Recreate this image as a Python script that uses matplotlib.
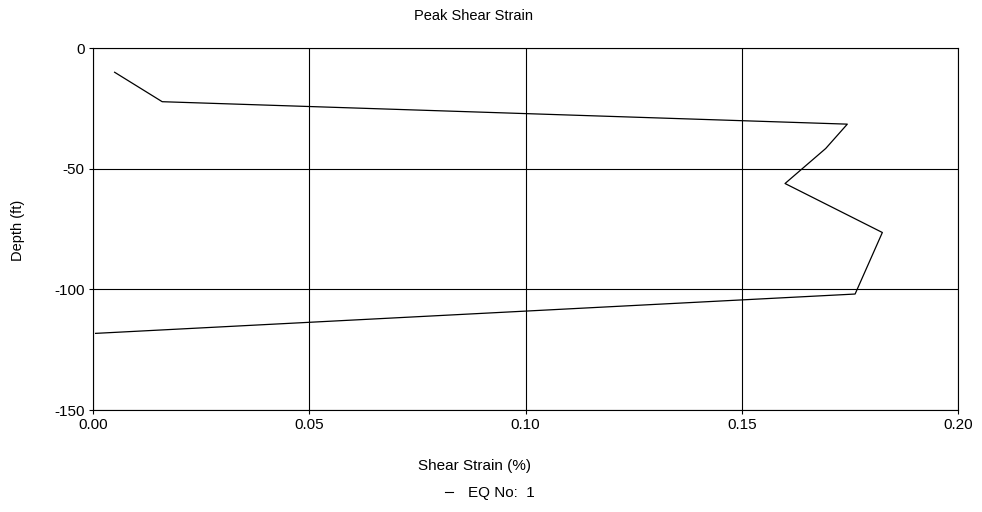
import matplotlib.pyplot as plt
from matplotlib.lines import Line2D

plt.rcParams['font.family'] = ['Liberation Sans', 'DejaVu Sans']

# peak shear strain profile
strain = [0.005, 0.016, 0.1744, 0.1694, 0.160, 0.1825, 0.1762, 0.0006]
depth = [-10, -22.2, -31.5, -41.6, -56.1, -76.4, -101.9, -118.2]

x_ticks = [0.00, 0.05, 0.10, 0.15, 0.20]
x_labels = ['0.00', '0.05', '0.10', '0.15', '0.20']
y_ticks = [0, -50, -100, -150]
y_labels = ['0', '-50', '-100', '-150']

fig = plt.figure(figsize=(9.82, 5.12), dpi=100)
ax = fig.add_axes([0.0947, 0.199, 0.8809, 0.707])

ax.plot(strain, depth, color='black', linewidth=0.9)

ax.set_xlim(0, 0.20)
ax.set_ylim(-150, 0)
ax.set_xticks(x_ticks)
ax.set_xticklabels(x_labels)
ax.set_yticks(y_ticks)
ax.set_yticklabels(y_labels)
ax.tick_params(length=3, labelsize=11, pad=3)
ax.grid(True, color='black', linewidth=0.8)
for s in ax.spines.values():
    s.set_linewidth(0.8)

fig.text(473 / 982, 1 - 16 / 512, 'Peak Shear Strain', ha='center', va='center', fontsize=10.5)
fig.text(474 / 982, 1 - 466 / 512, 'Shear Strain (%)', ha='center', va='center', fontsize=11)
fig.text(18 / 982, 1 - 230 / 512, 'Depth (ft)', ha='center', va='center', rotation=90, fontsize=10.5)

handle = Line2D([], [], color='black', linewidth=0.8)
fig.legend([handle], ['EQ No:  1'], loc='center', bbox_to_anchor=(490 / 982, 1 - 493 / 512),
           frameon=False, fontsize=11, handlelength=0.5, handletextpad=1.0)

plt.savefig('out.png', dpi=100)
